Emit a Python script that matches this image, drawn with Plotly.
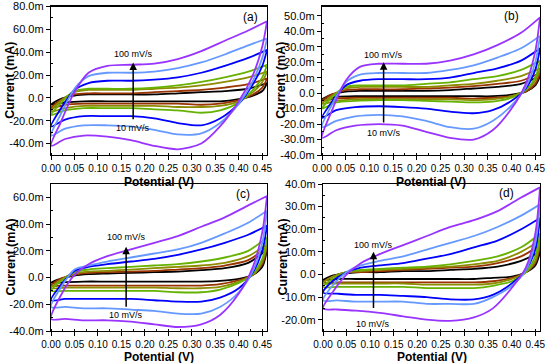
import plotly.graph_objects as go

# ---------------- data ----------------
SCAN_RATES = ["10 mV/s", "20 mV/s", "30 mV/s", "40 mV/s", "50 mV/s", "75 mV/s", "100 mV/s"]
COLORS = ["#000000", "#993300", "#8C8C00", "#66B200", "#0000FF", "#6699FF", "#9933FF"]

E_FWD = [0.00, 0.02, 0.05, 0.08, 0.12, 0.17, 0.22, 0.27, 0.32, 0.37, 0.42, 0.46]
E_REV = [0.46, 0.45, 0.43, 0.40, 0.36, 0.32, 0.27, 0.22, 0.17, 0.12, 0.07, 0.03, 0.00]

# currents in mA (forward sweep / reverse sweep), one row per scan rate
A_FWD = [
    [-6, -1, 2, 3, 3, 3, 3, 4, 5, 6, 8, 13],
    [-9, -2, 3, 4, 4, 4, 5, 6, 7, 9, 12, 17],
    [-12, -3, 5, 7, 7, 7, 8, 9, 11, 14, 18, 23],
    [-15, -5, 6, 8, 8, 8, 9, 11, 14, 18, 23, 29],
    [-25, -10, 7, 13, 15, 15, 16, 18, 22, 28, 35, 42],
    [-33, -15, 8, 19, 22, 22, 23, 26, 31, 38, 46, 52],
    [-42, -22, 5, 22, 28, 29, 30, 34, 41, 50, 59, 67],
]
A_REV = [
    [13, 6, 2, -1, -3, -3, -3, -3, -3, -3, -3, -4, -6],
    [17, 9, 3, -2, -5, -6, -5, -5, -5, -5, -5, -6, -9],
    [23, 14, 5, -3, -7, -8, -8, -7, -7, -7, -7, -9, -12],
    [29, 18, 7, -4, -11, -13, -11, -10, -9, -9, -9, -11, -15],
    [42, 28, 12, -5, -18, -24, -22, -18, -16, -16, -16, -19, -25],
    [52, 35, 15, -5, -22, -31, -32, -28, -25, -24, -24, -27, -33],
    [67, 45, 20, -3, -25, -40, -45, -42, -37, -34, -33, -36, -42],
]

B_FWD = [
    [-4, -1, 1, 1.5, 1.5, 1.5, 1.5, 2, 3, 4, 6, 11],
    [-5, -1, 2, 2.5, 2.5, 2.5, 3, 3.5, 4.5, 6, 8, 13],
    [-7, -2, 3, 4, 4, 4, 4, 5, 6, 8, 11, 16],
    [-10, -3, 4, 5, 5, 5, 6, 7, 9, 11, 15, 21],
    [-16, -6, 5, 8, 9, 9, 9, 10, 13, 16, 21, 29],
    [-22, -8, 7, 12, 13, 13, 13, 15, 18, 23, 29, 37],
    [-29, -12, 8, 17, 19, 19, 19, 21, 25, 31, 39, 49],
]
B_REV = [
    [11, 5, 1, -1, -2, -2, -2, -2, -2, -2, -2, -2.5, -4],
    [13, 6, 1, -2, -3, -3.5, -3, -3, -3, -3, -3, -3.5, -5],
    [16, 8, 2, -2, -4, -4.5, -4, -4, -4, -4, -4, -5, -7],
    [21, 10, 2, -3, -5.5, -6, -5.5, -5, -4.5, -4.5, -5, -6, -10],
    [29, 15, 3, -5, -11, -13, -12, -10, -9, -8.5, -9, -11, -16],
    [37, 20, 4, -8, -18, -23, -22, -18, -15, -14, -15, -18, -22],
    [49, 27, 6, -10, -24, -30, -29, -25, -21, -20, -21, -24, -29],
]

C_FWD = [
    [-4, -1, 1.5, 2.5, 3, 3.5, 4, 4.5, 5.5, 7, 11, 21],
    [-6, -1, 2, 3.5, 4, 4.5, 5, 6, 7, 9, 13, 23],
    [-8, -2, 3, 4.5, 5, 6, 7, 8, 9, 11, 16, 25],
    [-10, -3, 4, 6, 7, 8, 9, 10, 12, 15, 20, 30],
    [-17, -6, 5, 8, 10, 12, 14, 17, 21, 26, 32, 39],
    [-22, -8, 6, 9, 12, 15, 18, 21, 26, 33, 41, 50],
    [-31, -14, 2, 10, 16, 21, 26, 31, 38, 45, 54, 61],
]
C_REV = [
    [21, 8, 2, -1, -2.5, -3, -3, -3, -3, -3, -3, -3.5, -4],
    [23, 10, 2, -2, -5, -6, -6, -6, -6, -6, -6, -6, -6],
    [25, 12, 2, -3, -7, -8, -8, -7.5, -7.5, -7.5, -7.5, -7.5, -8],
    [30, 14, 3, -4, -9, -11, -11, -10, -10, -10, -10, -10, -10],
    [39, 20, 4, -8, -15, -18, -18, -17, -16, -16, -16, -16, -17],
    [50, 26, 5, -11, -22, -27, -27, -25, -24, -23, -23, -22, -22],
    [61, 34, 8, -12, -28, -35, -37, -35, -33, -32, -32, -31, -31],
]

D_FWD = [
    [-2.5, -0.5, 0.5, 1, 1, 1.5, 1.5, 2, 2.5, 3.5, 6, 10],
    [-3.5, -1, 1, 1, 1.5, 2, 2.5, 3, 3.5, 5, 8, 13],
    [-4, -1, 1, 1.5, 2, 2.5, 3, 3.5, 4.5, 6, 10, 15],
    [-5.5, -2, 1, 2, 2.5, 3, 3.5, 4.5, 6, 8, 12, 18],
    [-8, -3, 1, 3, 4, 5, 7, 9, 12, 15, 20, 25],
    [-11.5, -5, 1, 4, 6, 8, 11, 14, 17, 21, 26, 31],
    [-15, -8, 0, 5, 9, 13, 17, 21, 24, 28, 34, 38.5],
]
D_REV = [
    [10, 4, 1, -1, -1.5, -2, -2, -2, -2, -2, -2, -2, -2.5],
    [13, 5, 1, -1.5, -3, -3.5, -3.5, -3.5, -3.5, -3.5, -3.5, -3.5, -3.5],
    [15, 6, 1, -2, -4, -4.5, -4.5, -4.5, -4, -4, -4, -4, -4],
    [18, 8, 1, -3, -5, -6, -6, -6, -5.5, -5.5, -5.5, -5.5, -5.5],
    [25, 11, 2, -4, -9, -11, -11, -10, -9.5, -9, -9, -8.5, -8],
    [31, 14, 2, -5, -10, -13, -13, -13, -12, -12, -12, -11.5, -11.5],
    [38.5, 18, 3, -6, -15, -19, -20.5, -20, -18.5, -17, -16, -15.5, -15],
]

X_TICKS = [0.00, 0.05, 0.10, 0.15, 0.20, 0.25, 0.30, 0.35, 0.40, 0.45]
X_TICKTEXT = ["0.00", "0.05", "0.10", "0.15", "0.20", "0.25", "0.30", "0.35", "0.40", "0.45"]

A_YTICKS = [-40, -20, 0, 20, 40, 60, 80]
A_YTEXT = ["-40.0m", "-20.0m", "0.0", "20.0m", "40.0m", "60.0m", "80.0m"]
B_YTICKS = [-40, -30, -20, -10, 0, 10, 20, 30, 40, 50]
B_YTEXT = ["-40.0m", "-30.0m", "-20.0m", "-10.0m", "0.0", "10.0m", "20.0m", "30.0m", "40.0m", "50.0m"]
C_YTICKS = [-40, -20, 0, 20, 40, 60]
C_YTEXT = ["-40.0m", "-20.0m", "0.0", "20.0m", "40.0m", "60.0m"]
D_YTICKS = [-20, -10, 0, 10, 20, 30, 40]
D_YTEXT = ["-20.0m", "-10.0m", "0.0", "10.0m", "20.0m", "30.0m", "40.0m"]

# ---------------- figure ----------------
FONT = "Liberation Sans, Arial, sans-serif"
W, H = 550, 363

panels = [
    dict(fwd=A_FWD, rev=A_REV, ax="", xd=(51, 267), yd=(6.5, 155), yr=(-50, 80), toff=26.5,
         yt=A_YTICKS, ytt=A_YTEXT, lab="(a)", labpos=(0.425, 71), arx=0.175, ar=(-20, 31), ty=(38, -26)),
    dict(fwd=B_FWD, rev=B_REV, ax="2", xd=(322, 540), yd=(6.5, 155), yr=(-40, 56), toff=26.5,
         yt=B_YTICKS, ytt=B_YTEXT, lab="(b)", labpos=(0.40, 50), arx=0.13, ar=(-20, 20), ty=(24.5, -26)),
    dict(fwd=C_FWD, rev=C_REV, ax="3", xd=(51, 267), yd=(184, 331), yr=(-40, 70), toff=25.5,
         yt=C_YTICKS, ytt=C_YTEXT, lab="(c)", labpos=(0.408, 62.5), arx=0.16, ar=(-23, 23), ty=(30, -28)),
    dict(fwd=D_FWD, rev=D_REV, ax="4", xd=(323, 540), yd=(184, 331), yr=(-25, 40), toff=25.5,
         yt=D_YTICKS, ytt=D_YTEXT, lab="(d)", labpos=(0.388, 36), arx=0.107, ar=(-15.5, 10), ty=(13, -22)),
]

fig = go.Figure()
layout = dict(width=W, height=H, margin=dict(l=0, r=0, t=0, b=0, autoexpand=False),
              paper_bgcolor="white", plot_bgcolor="white", showlegend=False,
              font=dict(family=FONT, color="black", size=11))
annotations = []

for p in panels:
    xk = "x" + p["ax"]
    yk = "y" + p["ax"]
    for i, name in enumerate(SCAN_RATES):
        xs = E_FWD + E_REV
        ys = p["fwd"][i] + p["rev"][i]
        fig.add_trace(go.Scatter(x=xs, y=ys, mode="lines", name=name,
                                 line=dict(color=COLORS[i], width=1.8, shape="spline", smoothing=0.8),
                                 xaxis=xk, yaxis=yk, hoverinfo="skip"))
    common = dict(showline=True, linecolor="black", linewidth=1.2, mirror=True,
                  showgrid=False, zeroline=False, ticks="outside", ticklen=4,
                  tickwidth=1, tickcolor="black", automargin=False, tickangle=0,
                  tickfont=dict(family=FONT, size=11, color="black"))
    xaxis = dict(common, domain=[p["xd"][0] / W, p["xd"][1] / W], range=[0, 0.46],
                 tickvals=X_TICKS, ticktext=X_TICKTEXT, anchor=yk,
                 tickfont=dict(family=FONT, size=10, color="black"),
                 minor=dict(ticks="inside", ticklen=2, dtick=0.025, tick0=0, tickcolor="black"))
    yaxis = dict(common, domain=[1 - p["yd"][1] / H, 1 - p["yd"][0] / H], range=list(p["yr"]),
                 tickvals=p["yt"], ticktext=p["ytt"], anchor=xk,
                 minor=dict(ticks="inside", ticklen=2, tickcolor="black",
                            tickvals=[(a + b) / 2 for a, b in zip(p["yt"][:-1], p["yt"][1:])]))
    layout["xaxis" + p["ax"]] = xaxis
    layout["yaxis" + p["ax"]] = yaxis

    annotations.append(dict(x=p["labpos"][0], y=p["labpos"][1], xref=xk, yref=yk, text=p["lab"],
                            showarrow=False, font=dict(size=12, color="black")))
    annotations.append(dict(x=p["arx"], y=p["ar"][1], ax=p["arx"], ay=p["ar"][0],
                            xref=xk, yref=yk, axref=xk, ayref=yk, text="", showarrow=True,
                            arrowhead=2, arrowsize=1, arrowwidth=1.5, arrowcolor="black"))
    annotations.append(dict(x=p["arx"], y=p["ty"][0], xref=xk, yref=yk, text="100 mV/s",
                            showarrow=False, font=dict(size=9, color="black")))
    annotations.append(dict(x=p["arx"], y=p["ty"][1], xref=xk, yref=yk, text="10 mV/s",
                            showarrow=False, font=dict(size=9, color="black")))
    xc = (p["xd"][0] + p["xd"][1]) / 2 / W
    annotations.append(dict(x=xc, y=1 - (p["yd"][1] + p["toff"]) / H, xref="paper", yref="paper",
                            xanchor="center", yanchor="middle",
                            text="<b>Potential (V)</b>", showarrow=False,
                            font=dict(size=12, color="black")))
    yc = 1 - (p["yd"][0] + p["yd"][1]) / 2 / H
    annotations.append(dict(x=(p["xd"][0] - 41) / W, y=yc, xref="paper", yref="paper",
                            xanchor="center", yanchor="middle",
                            text="<b>Current (mA)</b>", showarrow=False, textangle=-90,
                            font=dict(size=12.5, color="black")))

layout["annotations"] = annotations
fig.update_layout(**layout)
fig.write_html("out.html", config={"displayModeBar": False, "staticPlot": True},
               post_script="document.body.style.margin='0';document.body.style.overflow='hidden';")
